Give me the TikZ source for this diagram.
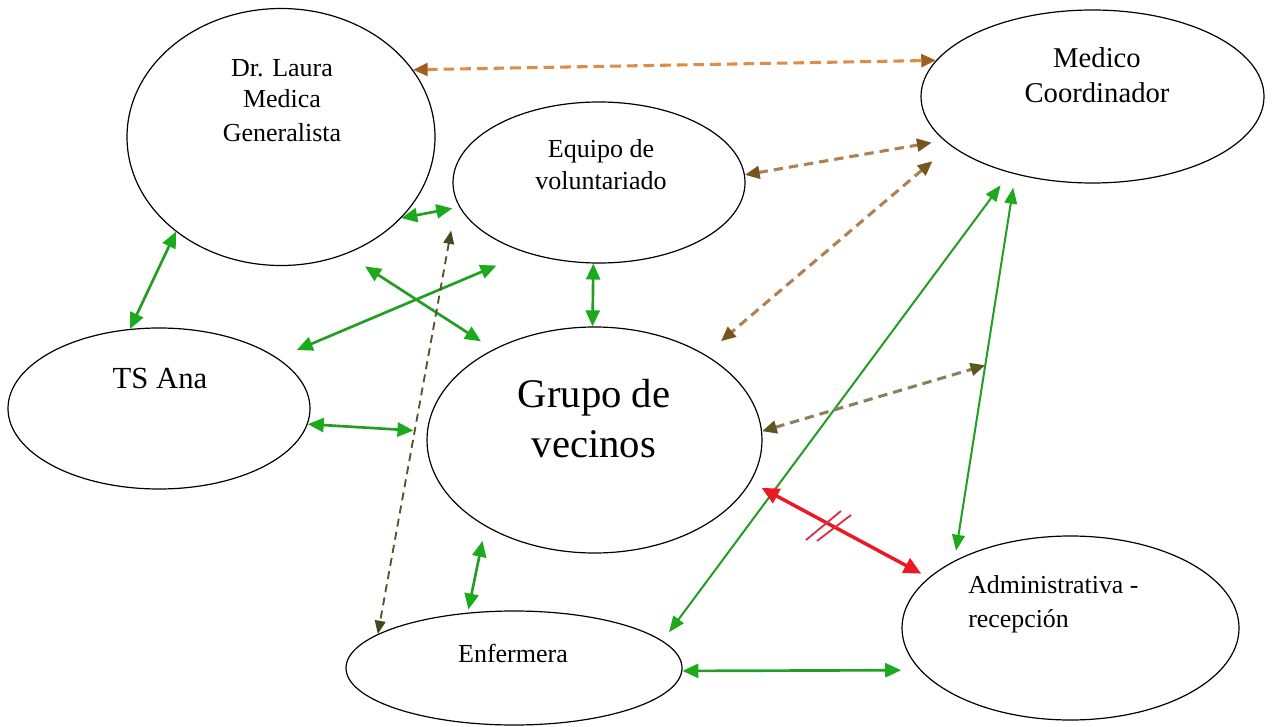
\documentclass[tikz,border=0pt]{standalone}
\usepackage{fontspec}
\setmainfont{Liberation Serif}
\usetikzlibrary{shapes.geometric,arrows.meta,calc}
\definecolor{grn}{RGB}{34,158,34}
\definecolor{grnhead}{RGB}{28,170,28}
\definecolor{rd}{RGB}{235,25,35}
\definecolor{strike}{RGB}{215,50,70}
\definecolor{orng}{RGB}{222,140,72}
\definecolor{orngh}{RGB}{160,95,30}
\definecolor{brnl}{RGB}{178,128,78}
\definecolor{brnh}{RGB}{120,85,30}
\definecolor{olvl}{RGB}{140,128,92}
\definecolor{olvh}{RGB}{95,85,30}
\definecolor{dolvl}{RGB}{85,85,45}
\definecolor{dolvh}{RGB}{72,72,25}
\begin{document}
\begin{tikzpicture}[x=0.75pt,y=-0.75pt,
  ell/.style n args={2}{ellipse,draw=black,line width=0.9pt,inner sep=0pt,
    minimum width=#1*0.75pt,minimum height=#2*0.75pt},
  lbl/.style={inner sep=0pt,anchor=base,font=\fontsize{#1}{#1}\selectfont},
  gline/.style={draw=grn,line width=2pt,
    {Triangle[length=12pt,width=10.5pt,color=grnhead]}-{Triangle[length=12pt,width=10.5pt,color=grnhead]}},
  glong/.style={draw=grn,line width=1.5pt,
    {Triangle[length=12pt,width=9.5pt,color=grnhead]}-{Triangle[length=12pt,width=9.5pt,color=grnhead]}},
  orngdash/.style={draw=orng,line width=2.3pt,dash pattern=on 8pt off 4.5pt,
    {Triangle[length=11pt,width=9.5pt,color=orngh]}-{Triangle[length=11pt,width=9.5pt,color=orngh]}},
  brndash/.style={draw=brnl,line width=2.3pt,dash pattern=on 7pt off 4.5pt,
    {Triangle[length=11pt,width=9.5pt,color=brnh]}-{Triangle[length=11pt,width=9.5pt,color=brnh]}},
  olvdash/.style={draw=olvl,line width=2.3pt,dash pattern=on 7pt off 4.5pt,
    {Triangle[length=11pt,width=9.5pt,color=olvh]}-{Triangle[length=11pt,width=9.5pt,color=olvh]}},
  dolvdash/.style={draw=dolvl,line width=1.4pt,dash pattern=on 6pt off 4pt,
    {Triangle[length=10pt,width=8pt,color=dolvh]}-{Triangle[length=10pt,width=8pt,color=dolvh]}},
  rdline/.style={draw=rd,line width=2.6pt,
    {Triangle[length=13pt,width=12pt,color=rd]}-{Triangle[length=13pt,width=12pt,color=rd]}},
  strikeline/.style={draw=strike,line width=1.4pt}
]
\path[use as bounding box,fill=white] (0,0) rectangle (1277,727);

% ellipses
\node[ell={308}{257}] (laura)  at (281,137)    {};
\node[ell={292}{161}] (equipo) at (599,182.5)  {};
\node[ell={343}{173}] (medico) at (1092.5,96.5){};
\node[ell={302}{161}] (tsana)  at (159,408.5)  {};
\node[ell={335}{226}] (grupo)  at (594.5,440)  {};
\node[ell={336}{114}] (enf)    at (514,668)    {};
\node[ell={337}{184}] (admin)  at (1070.5,628) {};

% labels
\node[lbl=19.5pt] (laura1) at (282,77)  {Dr. Laura};
\node[lbl=19.5pt] (laura2) at (282,108) {Medica};
\node[lbl=19.5pt] (laura3) at (282,142) {Generalista};
\node[lbl=19.5pt] (equipo1) at (601,158) {Equipo de};
\node[lbl=19.5pt] (equipo2) at (601,190) {voluntariado};
\node[lbl=21.5pt] (medico1) at (1097,68)  {Medico};
\node[lbl=21.5pt] (medico2) at (1097,103) {Coordinador};
\node[lbl=23pt] (tsana1) at (160,388) {TS Ana};
\node[lbl=30.5pt] (grupo1) at (594,407) {Grupo de};
\node[lbl=30.5pt] (grupo2) at (594,457) {vecinos};
\node[lbl=19.5pt] (enf1) at (513,662) {Enfermera};
\node[lbl=19.4pt,anchor=base west] (admin1) at (968,593) {Administrativa -};
\node[lbl=19.4pt,anchor=base west] (admin2) at (968,627) {recepción};

% green connectors
\draw[gline] (laura.-138) -- (tsana.110);
\draw[gline] (laura.-34) -- ($(equipo.center)!1.05!(equipo.190)$);
\draw[gline] ($(laura.center)!1.14!(laura.-57)$) -- ($(grupo.center)!1.10!(grupo.139)$);
\draw[gline] ($(equipo.center)!1.24!(equipo.219)$) -- ($(tsana.center)!1.16!(tsana.23)$);
\draw[gline] (equipo.-94) -- (grupo.91);
\draw[gline] (tsana.-6) -- ($(grupo.center)!1.08!(grupo.177)$);
\draw[gline] ($(grupo.center)!1.11!(grupo.222)$) -- ($(enf.center)!1.05!(enf.128)$);
\draw[gline] (enf.-1) -- ($(admin.center)!1.10!(admin.194)$);
\draw[glong] ($(medico.center)!1.15!(medico.224)$) -- ($(enf.center)!1.11!(enf.13)$);
\draw[glong] ($(medico.center)!1.144!(medico.229)$) -- ($(admin.center)!1.074!(admin.146)$)
  coordinate[pos=0.489] (gx);

% dashed connectors
\draw[orngdash] (laura.27) -- (medico.167);
\draw[brndash] (equipo.3) -- ($(medico.center)!1.074!(medico.196)$);
\draw[brndash] ($(medico.center)!1.19!(medico.202)$) -- ($(grupo.center)!1.15!(grupo.38)$);
\draw[olvdash] (grupo.3) -- (gx);
\draw[dolvdash] ($(equipo.center)!1.17!(equipo.198)$) -- (enf.166);

% red connector with strike
\draw[rdline] ($(grupo.center)!1.08!(grupo.-16)$) -- ($(admin.center)!1.06!(admin.160)$);
\draw[strikeline] (806,540) -- (841,511);
\draw[strikeline] (817,541) -- (851,515);
\end{tikzpicture}
\end{document}
